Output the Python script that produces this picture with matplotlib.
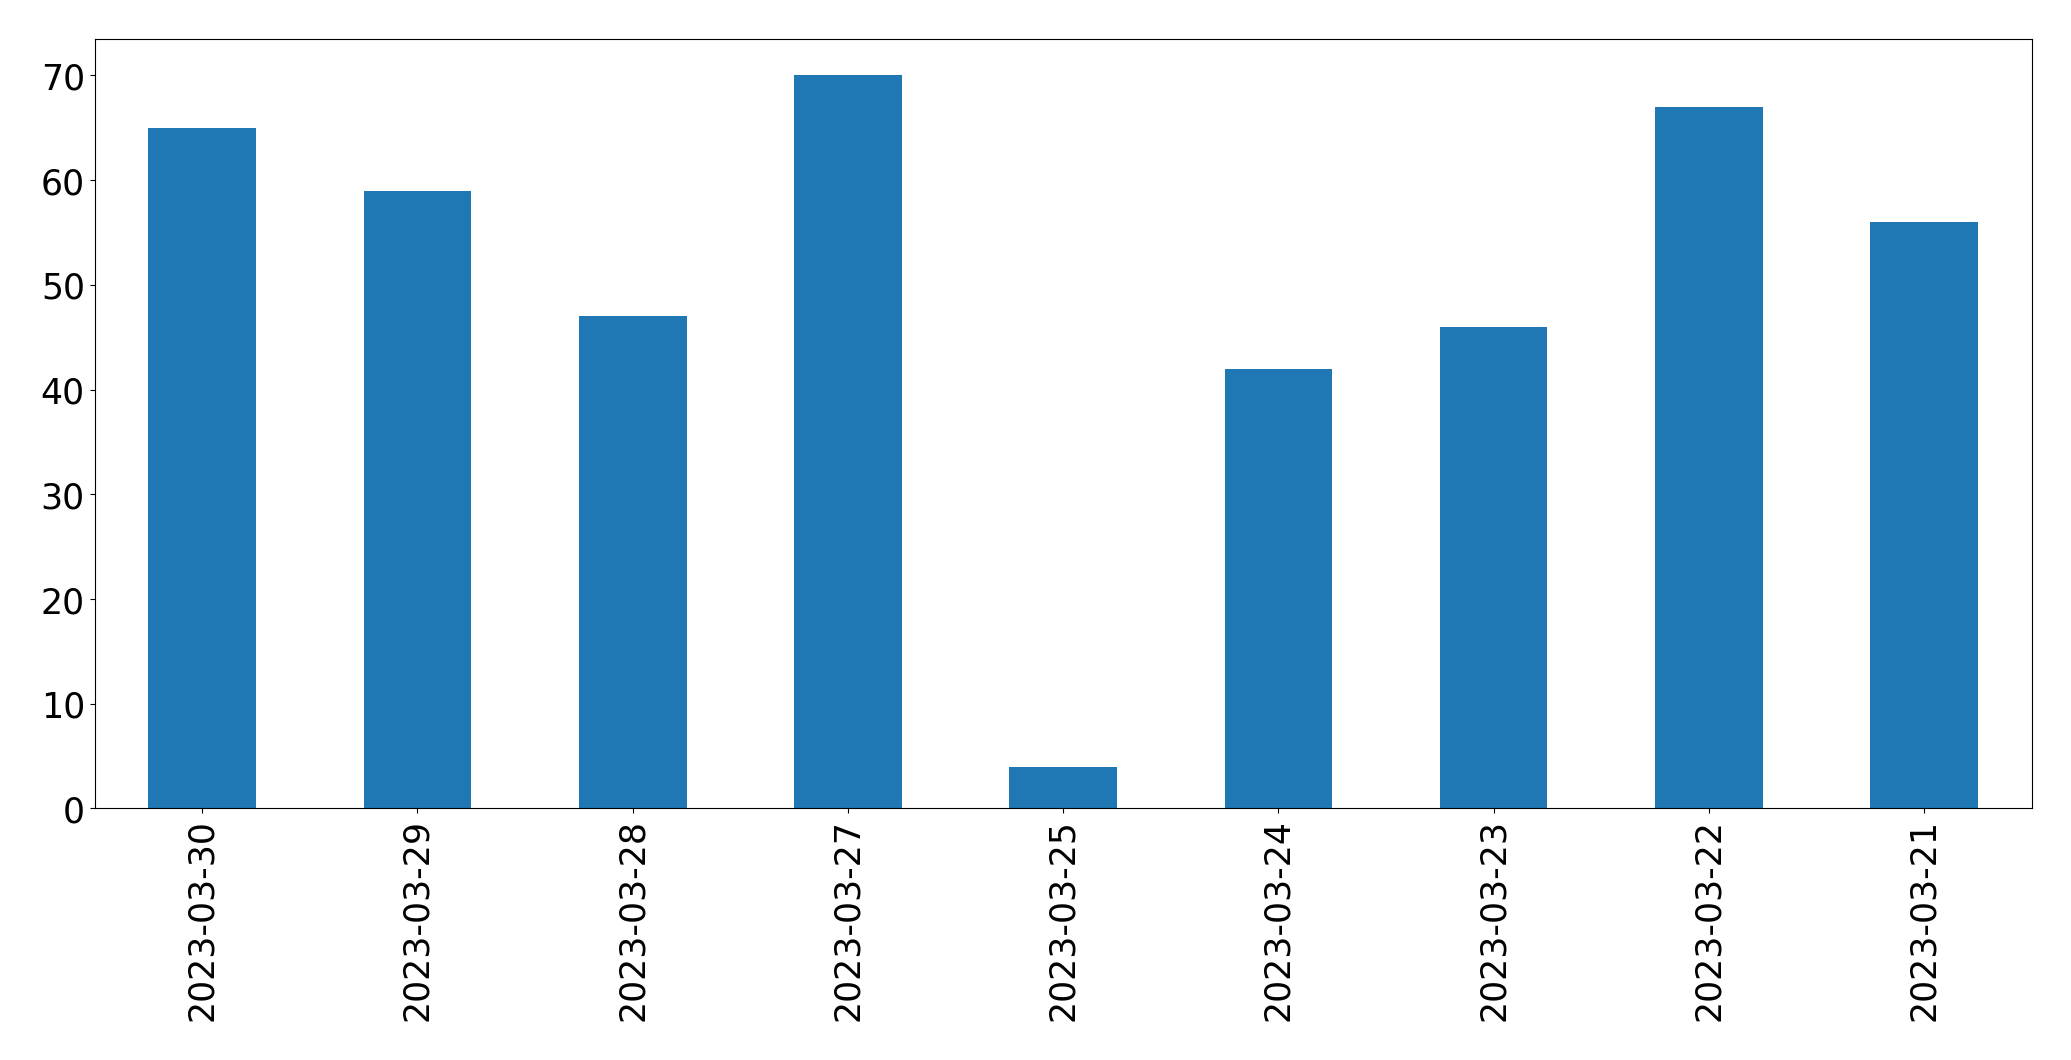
import matplotlib
matplotlib.use('Agg')
import matplotlib.pyplot as plt
import pandas as pd

dates = ['2023-03-30', '2023-03-29', '2023-03-28', '2023-03-27', '2023-03-25',
         '2023-03-24', '2023-03-23', '2023-03-22', '2023-03-21']
counts = [65, 59, 47, 70, 4, 42, 46, 67, 56]

s = pd.Series(counts, index=dates)

fig, ax = plt.subplots(figsize=(20.71, 10.605), dpi=100)
fig.subplots_adjust(left=0.0457, right=0.981, top=0.963, bottom=0.2372)
s.plot(kind='bar', ax=ax, color='#1f77b4', fontsize=25)
ax.tick_params(axis='x', labelrotation=90)

fig.savefig('out.png', dpi=100)
